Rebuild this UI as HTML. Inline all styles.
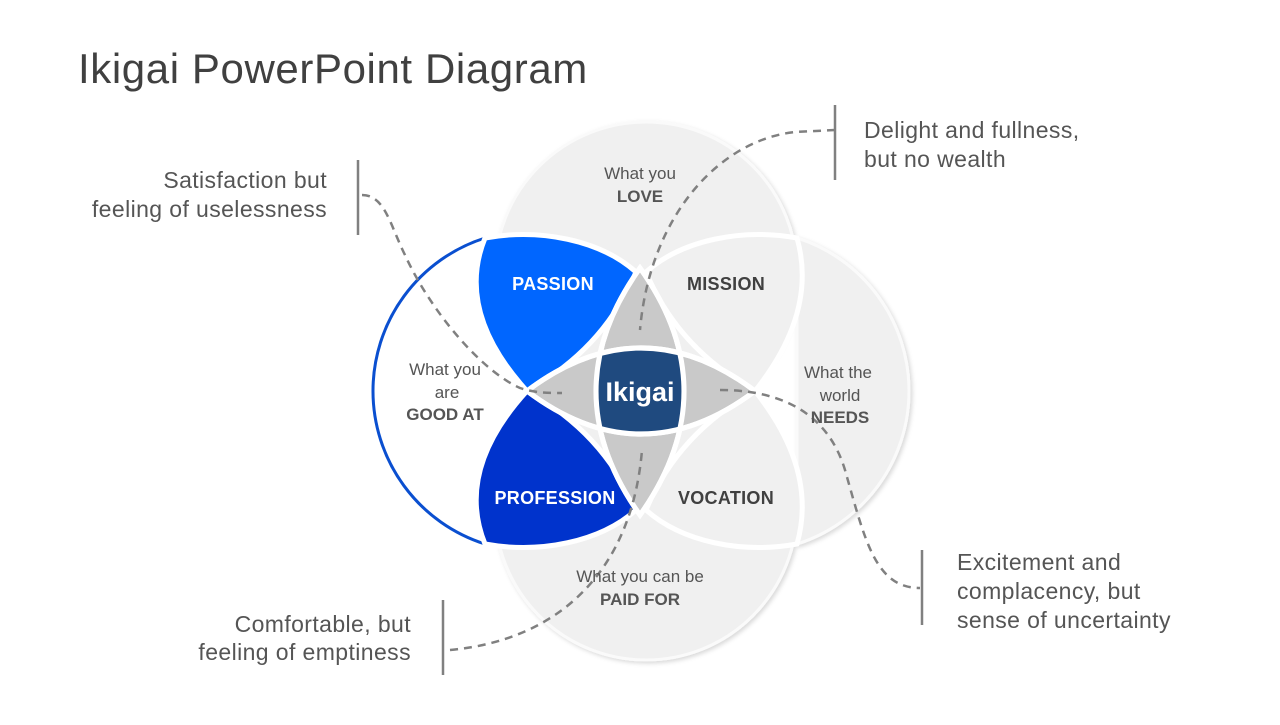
<!DOCTYPE html>
<html><head><meta charset="utf-8"><style>
html,body{margin:0;padding:0;background:#fff;}
body{width:1280px;height:720px;overflow:hidden;font-family:"Liberation Sans",sans-serif;}
</style></head><body>
<svg width="1280" height="720" viewBox="0 0 1280 720" xmlns="http://www.w3.org/2000/svg" font-family="Liberation Sans, sans-serif">
<defs>
<filter id="sh" x="-20%" y="-20%" width="140%" height="140%"><feDropShadow dx="2" dy="2" stdDeviation="2" flood-color="#000" flood-opacity="0.15"/></filter>
<clipPath id="vl"><path d="M640,268 Q728,391 640,515 Q552,391 640,268 Z"/></clipPath>
</defs>
<text x="78" y="83" font-size="42" fill="#404040" letter-spacing="0.6">Ikigai PowerPoint Diagram</text>

<g filter="url(#sh)">
<circle cx="646" cy="273" r="151" fill="#f0f0f0" stroke="#fafafa" stroke-width="3"/>
<circle cx="646" cy="509" r="151" fill="#f0f0f0" stroke="#fafafa" stroke-width="3"/>
<path d="M797,238 A160.5,160.5 0 0 1 797,544 Z" fill="#f0f0f0" stroke="#fafafa" stroke-width="3"/>
</g>

<path d="M485,238 A160.5,160.5 0 0 0 485,544 Q460,470 527,391 Q460,312 485,238 Z" fill="#fff" stroke="#0a4fd0" stroke-width="3"/>

<path d="M797,238 C742,228 682,240 646,272 Q678,349 755,391 Q818,312 797,238 Z" fill="#f0f0f0" stroke="#fff" stroke-width="5"/>
<path d="M797,544 C742,554 682,542 646,510 Q678,433 755,391 Q818,470 797,544 Z" fill="#f0f0f0" stroke="#fff" stroke-width="5"/>

<path d="M485,238 C540,228 600,240 636,272 Q604,349 527,391 Q455,312 485,238 Z" fill="#0066ff" stroke="#fff" stroke-width="5"/>
<path d="M485,544 C540,554 600,542 636,510 Q604,433 527,391 Q455,470 485,544 Z" fill="#0033cc" stroke="#fff" stroke-width="5"/>

<path d="M640,268 Q728,391 640,515 Q552,391 640,268 Z" fill="#c9c9c9" stroke="#fff" stroke-width="5"/>
<path d="M527,391 Q641,305 755,391 Q641,477 527,391 Z" fill="#c9c9c9" stroke="#fff" stroke-width="5"/>
<path d="M527,391 Q641,305 755,391 Q641,477 527,391 Z" fill="#1f4a7f" clip-path="url(#vl)"/>
<path d="M640,268 Q728,391 640,515 Q552,391 640,268 Z" fill="none" stroke="#fff" stroke-width="5"/>
<path d="M527,391 Q641,305 755,391 Q641,477 527,391 Z" fill="none" stroke="#fff" stroke-width="5"/>

<g fill="none" stroke="#808080" stroke-width="2.5" stroke-dasharray="8 6">
<path d="M362,195 C385,195 390,225 405,255 C430,310 480,370 520,388 C535,393 550,393 562,393"/>
<path d="M835,130 L795,132 C720,140 650,215 640,330"/>
<path d="M720,390 C790,390 830,420 845,470 C865,540 875,588 920,588"/>
<path d="M450,650 C560,640 632,570 642,450"/>
</g>
<g stroke="#808080" stroke-width="2.5">
<line x1="358" y1="160" x2="358" y2="235"/>
<line x1="835" y1="105" x2="835" y2="180"/>
<line x1="922" y1="550" x2="922" y2="625"/>
<line x1="443" y1="600" x2="443" y2="675"/>
</g>

<g font-weight="bold" font-size="18" text-anchor="middle" letter-spacing="0.3">
<text x="553" y="290" fill="#fff">PASSION</text>
<text x="555" y="504" fill="#fff">PROFESSION</text>
<text x="726" y="290" fill="#404040">MISSION</text>
<text x="726" y="504" fill="#404040">VOCATION</text>
<text x="640" y="401" fill="#fff" font-size="27" letter-spacing="0">Ikigai</text>
</g>
<g font-size="17" text-anchor="middle" fill="#555">
<text x="640" y="179">What you</text>
<text x="640" y="202" font-weight="bold">LOVE</text>
<text x="445" y="375">What you</text>
<text x="447" y="398">are</text>
<text x="445" y="420" font-weight="bold">GOOD AT</text>
<text x="838" y="378">What the</text>
<text x="840" y="401">world</text>
<text x="840" y="423" font-weight="bold">NEEDS</text>
<text x="640" y="582">What you can be</text>
<text x="640" y="605" font-weight="bold">PAID FOR</text>
</g>

<g font-size="23" fill="#555" letter-spacing="0.4">
<text x="327" y="188" text-anchor="end">Satisfaction but</text>
<text x="327" y="217" text-anchor="end">feeling of uselessness</text>
<text x="864" y="138">Delight and fullness,</text>
<text x="864" y="167">but no wealth</text>
<text x="957" y="570">Excitement and</text>
<text x="957" y="599">complacency, but</text>
<text x="957" y="628">sense of uncertainty</text>
<text x="411" y="632" text-anchor="end">Comfortable, but</text>
<text x="411" y="660" text-anchor="end">feeling of emptiness</text>
</g>
</svg>
</body></html>
